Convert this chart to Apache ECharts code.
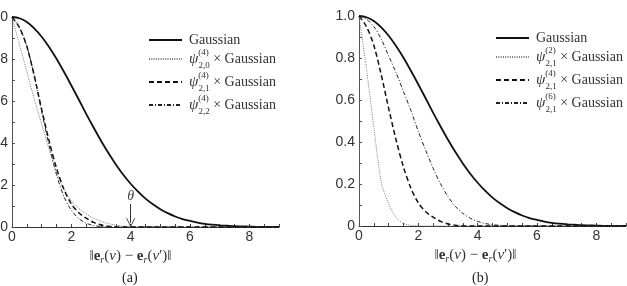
<!DOCTYPE html>
<html>
<head>
<meta charset="utf-8">
<script src="https://cdn.jsdelivr.net/npm/echarts@6/dist/echarts.min.js"></script>
<style>
  html, body { margin: 0; padding: 0; background: #fff; }
  #main { width: 627px; height: 286px; }
</style>
</head>
<body>
<div id="main"></div>
<script>
// x positions (distance), step 0.25
var xs = [0, 0.25, 0.5, 0.75, 1, 1.25, 1.5, 1.75, 2, 2.25, 2.5, 2.75, 3, 3.25, 3.5, 3.75,
          4, 4.25, 4.5, 4.75, 5, 5.25, 5.5, 5.75, 6, 6.25, 6.5, 6.75, 7, 7.25, 7.5, 7.75,
          8, 8.25, 8.5, 8.75, 9];

// Gaussian (both panels)
var gauss = [1.000, 0.994, 0.976, 0.946, 0.906, 0.857, 0.801, 0.739, 0.674, 0.607, 0.539, 0.474,
             0.411, 0.352, 0.298, 0.249, 0.206, 0.168, 0.135, 0.108, 0.085, 0.066, 0.050, 0.038,
             0.029, 0.021, 0.015, 0.011, 0.008, 0.006, 0.004, 0.003, 0.002, 0.001, 0.001, 0, 0];
// panel (a)
var psi4_20 = [1.0, 0.87, 0.74, 0.61, 0.49, 0.37, 0.26, 0.18, 0.125, 0.09, 0.062, 0.042, 0.027, 0.016,
               0.009, 0.004, 0.002, 0, 0, 0, 0, 0, 0, 0, 0, 0, 0, 0, 0, 0, 0, 0, 0, 0, 0, 0, 0];
var psi4_21 = [1.0, 0.95, 0.86, 0.72, 0.56, 0.41, 0.28, 0.18, 0.11, 0.068, 0.042, 0.022, 0.01, 0.004,
               0.001, 0, 0, 0, 0, 0, 0, 0, 0, 0, 0, 0, 0, 0, 0, 0, 0, 0, 0, 0, 0, 0, 0];
var psi4_22 = [1.0, 0.95, 0.86, 0.72, 0.55, 0.39, 0.25, 0.145, 0.08, 0.04, 0.018, 0.007, 0.002, 0,
               0, 0, 0, 0, 0, 0, 0, 0, 0, 0, 0, 0, 0, 0, 0, 0, 0, 0, 0, 0, 0, 0, 0];
// panel (b)
var psi2_21 = [1.0, 0.75, 0.47, 0.21, 0.105, 0.04, 0.012, 0.003, 0.001, 0, 0, 0, 0, 0,
               0, 0, 0, 0, 0, 0, 0, 0, 0, 0, 0, 0, 0, 0, 0, 0, 0, 0, 0, 0, 0, 0, 0];
var psi6_21 = [1.0, 0.985, 0.95, 0.89, 0.81, 0.73, 0.64, 0.55, 0.45, 0.36, 0.275, 0.20, 0.14, 0.093,
               0.06, 0.037, 0.022, 0.012, 0.006, 0.003, 0.001, 0, 0, 0, 0, 0, 0, 0, 0, 0, 0, 0, 0, 0, 0, 0, 0];

var xTicks = [0, 2, 4, 6, 8];
var yTicks = [0, 0.2, 0.4, 0.6, 0.8, 1.0];
var theta = [4, 0.11, 0.02];   // x, arrow start, arrow end

var serif = '"Liberation Serif", "DejaVu Serif", serif';
var sans = '"Liberation Sans", Arial, sans-serif';

function pts(ys) {
    return xs.map(function (x, i) { return [x, ys[i]]; });
}

// legend labels
var labels = {
    'Gaussian': '{t|Gaussian}',
    'psi4_20': '{p|ψ}{sup|(4)}{sub|2,0}{t| × Gaussian}',
    'psi4_21': '{p|ψ}{sup|(4)}{sub|2,1}{t| × Gaussian}',
    'psi4_22': '{p|ψ}{sup|(4)}{sub|2,2}{t| × Gaussian}',
    'psi2_21': '{p|ψ}{sup|(2)}{sub|2,1}{t| × Gaussian}',
    'psi6_21': '{p|ψ}{sup|(6)}{sub|2,1}{t| × Gaussian}'
};
var legendRich = {
    t: { fontFamily: serif, fontSize: 14, color: '#333', lineHeight: 22 },
    p: { fontFamily: serif, fontSize: 15, fontStyle: 'italic', color: '#333', lineHeight: 22 },
    sup: { fontFamily: serif, fontSize: 9, color: '#333', lineHeight: 14, verticalAlign: 'top', width: 0.1 },
    sub: { fontFamily: serif, fontSize: 9, color: '#333', lineHeight: 14, verticalAlign: 'bottom' }
};

var axisName = '{n|‖}{b|e}{r|r}{n|(}{i|v}{n|) − }{b|e}{r|r}{n|(}{i|v}{n|′)‖}';
var nameRich = {
    n: { fontFamily: serif, fontSize: 15, color: '#333', lineHeight: 18 },
    b: { fontFamily: serif, fontSize: 15, fontWeight: 'bold', color: '#333', lineHeight: 18 },
    i: { fontFamily: serif, fontSize: 15, fontStyle: 'italic', color: '#333', lineHeight: 18 },
    r: { fontFamily: serif, fontSize: 10, fontStyle: 'italic', color: '#333', lineHeight: 11, verticalAlign: 'bottom' }
};

function xAxis(idx, shift) {
    return {
        type: 'value', gridIndex: idx, min: 0, max: 9, interval: 2,
        name: axisName, nameLocation: 'middle', nameGap: 18,
        nameTextStyle: { rich: nameRich, padding: [0, shift * 2, 0, 0] },
        axisLine: { lineStyle: { color: '#333', width: 1.2 } },
        axisTick: { inside: true, length: 3, lineStyle: { color: '#444' } },
        minorTick: { show: true, splitNumber: 4, length: 3, lineStyle: { color: '#444' } },
        axisLabel: {
            margin: 3, color: '#333', fontFamily: sans, fontSize: 14,
            formatter: function (v) { return xTicks.indexOf(v) >= 0 ? String(v) : ''; }
        },
        splitLine: { show: false }
    };
}
function yAxis(idx) {
    return {
        type: 'value', gridIndex: idx, min: 0, max: 1, interval: 0.2,
        axisLine: { show: true, lineStyle: { color: '#555', width: 1 } },
        axisTick: { show: true, inside: true, length: 3, lineStyle: { color: '#555' } },
        minorTick: { show: true, splitNumber: 2, length: 3, lineStyle: { color: '#555' } },
        axisLabel: {
            margin: 4, color: '#333', fontFamily: sans, fontSize: 14,
            formatter: function (v) {
                var k = yTicks.indexOf(Math.round(v * 10) / 10);
                if (k < 0) return '';
                return v === 0 ? '0' : v.toFixed(1);
            }
        },
        splitLine: { show: false }
    };
}

var styles = {
    solid: { color: '#111', width: 1.8, type: 'solid' },
    dotted: { color: '#777', width: 1, type: [1, 1.3] },
    dashed: { color: '#111', width: 1.5, type: [5, 3] },
    dashdot: { color: '#222', width: 1, type: [4, 2, 1, 2] }
};

function line(name, idx, ys, st, extra) {
    var s = {
        name: name, type: 'line', xAxisIndex: idx, yAxisIndex: idx,
        data: pts(ys), showSymbol: false, symbol: 'none', smooth: 0.3, clip: false,
        lineStyle: st, itemStyle: { color: st.color }, z: 3
    };
    if (extra) Object.assign(s, extra);
    return s;
}

function legend(left, top, names) {
    return {
        orient: 'vertical', left: left, top: top, padding: 0,
        itemWidth: 33, itemHeight: 10, itemGap: 1,
        data: names,
        formatter: function (n) { return labels[n]; },
        itemStyle: { opacity: 0 },
        textStyle: { rich: legendRich, padding: [0, 0, 0, 2] },
        selectedMode: false
    };
}

var myChart = echarts.init(document.getElementById('main'));
var option = {
    animation: false,
    backgroundColor: '#fff',
    grid: [
        { left: 12, top: 17, width: 267, height: 210, outerBoundsMode: 'none', containLabel: false },
        { left: 359, top: 16, width: 267, height: 210, outerBoundsMode: 'none', containLabel: false }
    ],
    xAxis: [xAxis(0, 15), xAxis(1, 17)],
    yAxis: [yAxis(0), yAxis(1)],
    legend: [
        legend(148, 33, ['Gaussian', 'psi4_20', 'psi4_21', 'psi4_22']),
        legend(495, 31, ['Gaussian', 'psi2_21', 'psi4_21', 'psi6_21'])
    ],
    graphic: [
        { type: 'text', left: 122, top: 271, style: { text: '(a)', font: '14px ' + serif, fill: '#222' } },
        { type: 'text', left: 472, top: 271, style: { text: '(b)', font: '14px ' + serif, fill: '#222' } }
    ],
    series: [
        line('Gaussian', 0, gauss, styles.solid, {
            markLine: {
                silent: true,
                symbol: ['none', 'path://M0,10 L5,0 L10,10 L9,10 L5,2 L1,10 Z'],
                symbolSize: [9, 9],
                lineStyle: { color: '#333', width: 1, type: 'solid' },
                label: {
                    show: true, position: 'start', distance: 1, formatter: 'θ',
                    fontFamily: serif, fontStyle: 'italic', fontSize: 14, color: '#444'
                },
                data: [[{ coord: [theta[0], theta[1]] }, { coord: [theta[0], theta[2]] }]]
            }
        }),
        line('psi4_20', 0, psi4_20, styles.dotted),
        line('psi4_21', 0, psi4_21, styles.dashed),
        line('psi4_22', 0, psi4_22, styles.dashdot),
        line('Gaussian', 1, gauss, styles.solid),
        line('psi2_21', 1, psi2_21, styles.dotted),
        line('psi4_21', 1, psi4_21, styles.dashed),
        line('psi6_21', 1, psi6_21, styles.dashdot)
    ]
};
myChart.setOption(option);
</script>
</body>
</html>
